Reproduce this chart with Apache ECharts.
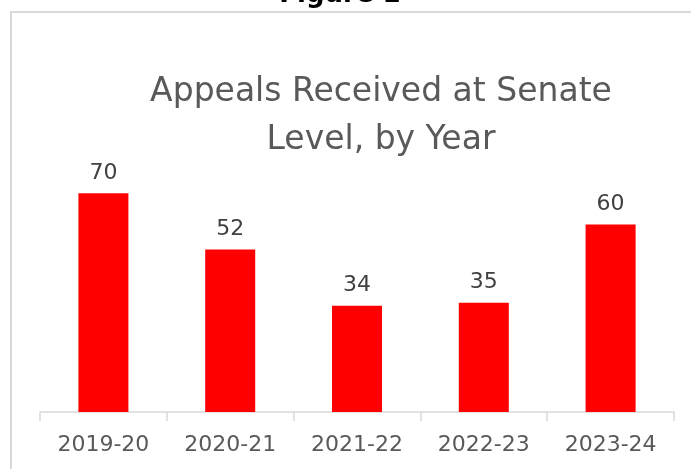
<!DOCTYPE html>
<html>
<head>
<meta charset="utf-8">
<script src="https://cdn.jsdelivr.net/npm/echarts@6/dist/echarts.min.js"></script>
<style>
html,body{margin:0;padding:0;background:#fff;}
#c{width:691px;height:469px;}
</style>
</head>
<body>
<div id="c"></div>
<script>
const categories = ['2019-20', '2020-21', '2021-22', '2022-23', '2023-24'];
const appeals = [70, 52, 34, 35, 60];
const titleText = 'Appeals Received at Senate\nLevel, by Year';
const figureLabel = 'Figure 1';

const chart = echarts.init(document.getElementById('c'), null, {renderer: 'canvas'});
const FONT = '"DejaVu Sans", "Noto Sans", sans-serif';
chart.setOption({
  animation: false,
  backgroundColor: '#ffffff',
  title: {
    text: titleText,
    left: 376,
    top: 63,
    textAlign: 'center',
    textStyle: {
      fontFamily: FONT,
      fontSize: 33,
      fontWeight: 'normal',
      color: '#595959',
      lineHeight: 48
    }
  },
  graphic: [
    {
      type: 'rect',
      shape: {x: 11, y: 12, width: 720, height: 500},
      style: {fill: 'none', stroke: '#d9d9d9', lineWidth: 2},
      silent: true
    },
    {
      type: 'text',
      x: 340,
      y: -18,
      style: {
        text: figureLabel,
        fontFamily: FONT,
        fontSize: 26,
        fontWeight: 'bold',
        fill: '#000000',
        textAlign: 'center',
        textVerticalAlign: 'top'
      },
      silent: true
    }
  ],
  grid: {left: 40, right: 17, top: 162, bottom: 57},
  xAxis: {
    type: 'category',
    data: categories,
    axisLine: {lineStyle: {color: '#d9d9d9', width: 1.5}},
    axisTick: {show: true, length: 9, lineStyle: {color: '#d9d9d9', width: 1.5}},
    axisLabel: {
      color: '#595959',
      fontFamily: FONT,
      fontSize: 22,
      margin: 22
    }
  },
  yAxis: {
    type: 'value',
    min: 0,
    max: 80,
    show: false,
    splitLine: {show: false}
  },
  series: [{
    type: 'bar',
    data: appeals,
    barWidth: 50,
    itemStyle: {color: '#ff0000'},
    label: {
      show: true,
      position: 'top',
      distance: 9,
      color: '#404040',
      fontFamily: FONT,
      fontSize: 22
    }
  }]
});
</script>
</body>
</html>
